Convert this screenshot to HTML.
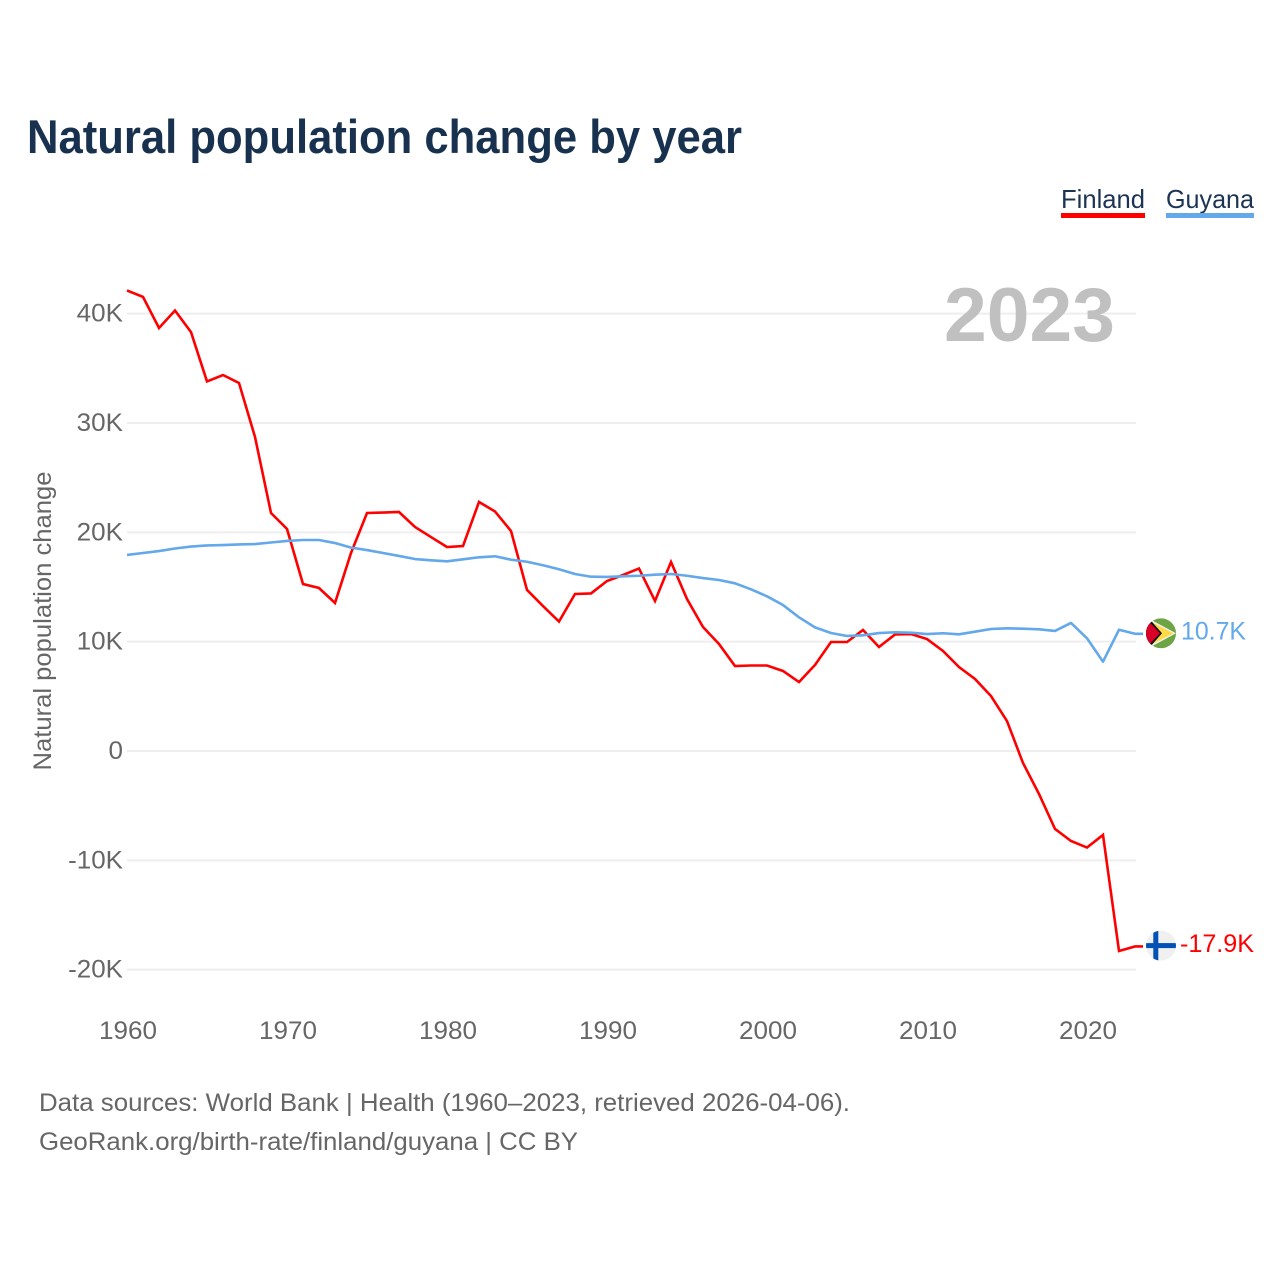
<!DOCTYPE html>
<html lang="en">
<head>
<meta charset="utf-8">
<title>Natural population change by year</title>
<style>
html,body{margin:0;padding:0;background:#fff;width:1280px;height:1280px;overflow:hidden}
svg{display:block}
text{font-family:"Liberation Sans",Arial,sans-serif}
</style>
</head>
<body>
<svg id="chart" xmlns="http://www.w3.org/2000/svg" width="1280" height="1280" viewBox="0 0 1280 1280">
  <defs>
    <clipPath id="flag-clip"><circle cx="0" cy="0" r="15"></circle></clipPath>
  </defs>
  <rect x="0" y="0" width="1280" height="1280" fill="#ffffff"></rect>
  <text x="27" y="153" font-size="47" font-weight="700" fill="#17314f" textLength="715" lengthAdjust="spacingAndGlyphs">Natural population change by year</text>

  <g>
    <g>
      <text x="1061" y="208" font-size="26" fill="#1b3454" textLength="84" lengthAdjust="spacingAndGlyphs">Finland</text>
      <rect x="1061" y="213" width="84" height="5" fill="#ff0000"></rect>
    </g>
    <g>
      <text x="1166" y="208" font-size="26" fill="#1b3454" textLength="88" lengthAdjust="spacingAndGlyphs">Guyana</text>
      <rect x="1166" y="213" width="88" height="5" fill="#62a8ea"></rect>
    </g>
  </g>

  <g id="grid"></g>
  <text x="944" y="341" font-size="76" font-weight="700" fill="#c0c0c0" textLength="171" lengthAdjust="spacingAndGlyphs">2023</text>
  <g id="y-axis"></g>
  <g id="x-axis"></g>
  <text x="0" y="0" transform="translate(51 621) rotate(-90)" text-anchor="middle" font-size="25" fill="#666666" textLength="299" lengthAdjust="spacingAndGlyphs">Natural population change</text>

  <path id="line-finland" fill="none" stroke="#ff0000" stroke-width="2.6" stroke-linejoin="miter"></path>
  <path id="line-guyana" fill="none" stroke="#62a8ea" stroke-width="2.6" stroke-linejoin="round"></path>

  <g id="flag-guyana">
    <g clip-path="url(#flag-clip)">
      <rect x="-15" y="-15" width="30" height="30" fill="#6da544"></rect>
      <polygon points="-10,-13.5 15,0 -10,13.5" fill="#f0f0f0"></polygon>
      <polygon points="-9,-11 12.5,0 -9,11" fill="#ffda44"></polygon>
      <polygon points="-15,-13.5 -9.5,-12 1,0 -9.5,12 -15,13.5" fill="#111111"></polygon>
      <polygon points="-15,-11 -10.5,-10 -1,0 -10.5,10 -15,11" fill="#d80027"></polygon>
    </g>
  </g>
  <g id="flag-finland">
    <g clip-path="url(#flag-clip)">
      <rect x="-15" y="-15" width="30" height="30" fill="#f0f0f0"></rect>
      <rect x="-7.7" y="-15" width="5" height="30" fill="#0052b4"></rect>
      <rect x="-15" y="-2.5" width="30" height="5" fill="#0052b4"></rect>
    </g>
  </g>
  <text id="value-guyana" x="1181" font-size="25" fill="#62a8ea"></text>
  <text id="value-finland" x="1180" font-size="25" fill="#ff0000"></text>

  <text x="39" y="1111" font-size="25" fill="#666666" textLength="811" lengthAdjust="spacingAndGlyphs">Data sources: World Bank | Health (1960–2023, retrieved 2026-04-06).</text>
  <text x="39" y="1150" font-size="25" fill="#666666" textLength="539" lengthAdjust="spacingAndGlyphs">GeoRank.org/birth-rate/finland/guyana | CC BY</text>
</svg>
<script>
var startYear = 1960;
var finland = [42.12,41.53,38.69,40.29,38.32,33.80,34.39,33.66,28.72,21.77,
  20.31,15.27,14.91,13.54,18.11,21.77,21.81,21.86,20.49,19.57,
  18.66,18.75,22.78,21.91,20.12,14.73,13.26,11.84,14.36,14.41,
  15.55,16.10,16.69,13.72,17.29,13.90,11.34,9.79,7.77,7.82,
  7.82,7.32,6.31,7.87,9.97,9.97,11.07,9.51,10.66,10.70,
  10.24,9.15,7.68,6.59,5.03,2.74,-1.10,-3.93,-7.13,-8.23,
  -8.83,-7.68,-18.29,-17.88];
var guyana = [17.93,18.11,18.29,18.52,18.70,18.80,18.84,18.89,18.93,19.07,
  19.21,19.30,19.30,19.02,18.60,18.38,18.11,17.84,17.56,17.44,
  17.35,17.53,17.72,17.81,17.50,17.31,16.99,16.62,16.19,15.94,
  15.92,15.98,16.03,16.13,16.19,16.03,15.82,15.64,15.34,14.79,
  14.15,13.35,12.23,11.31,10.79,10.52,10.58,10.79,10.86,10.82,
  10.70,10.77,10.67,10.91,11.16,11.22,11.19,11.13,10.98,11.71,
  10.31,8.17,11.09,10.72];
var yTickValues = [40,30,20,10,0,-10,-20];
var yTickLabels = ['40K','30K','20K','10K','0','-10K','-20K'];
var xTickYears = [1960,1970,1980,1990,2000,2010,2020];

var svgNS = 'http://www.w3.org/2000/svg';
function xScale(year){ return 127 + (year - 1960) * 16; }
function yScale(v){ return 751 - v * 10.933; }
function linePath(values){
  var d = '';
  for (var i = 0; i < values.length; i++) {
    d += (i ? 'L' : 'M') + xScale(startYear + i).toFixed(2) + ' ' + yScale(values[i]).toFixed(2);
  }
  // short flat connector running from the last point toward the flag
  d += 'L' + (xScale(startYear + values.length - 1) + 8).toFixed(2) + ' ' + yScale(values[values.length - 1]).toFixed(2);
  return d;
}
function fmt(v){ return v.toFixed(1) + 'K'; }

var grid = document.getElementById('grid');
var yAxis = document.getElementById('y-axis');
var xAxis = document.getElementById('x-axis');

yTickValues.forEach(function(v, i){
  var line = document.createElementNS(svgNS, 'line');
  
  
  line.setAttribute('x1', 127);
  line.setAttribute('x2', 1136);
  line.setAttribute('y1', yScale(v));
  line.setAttribute('y2', yScale(v));
  line.setAttribute('stroke', '#eeeeee');
  line.setAttribute('stroke-width', 2);
  grid.appendChild(line);

  var t = document.createElementNS(svgNS, 'text');
  
  
  t.setAttribute('x', 123);
  t.setAttribute('y', yScale(v) + 8);
  t.setAttribute('text-anchor', 'end');
  t.setAttribute('font-size', 25);
  t.setAttribute('fill', '#666666');
  t.textContent = yTickLabels[i];
  yAxis.appendChild(t);
  t.setAttribute('textLength', (t.getComputedTextLength() * 1.04).toFixed(1));
  t.setAttribute('lengthAdjust', 'spacingAndGlyphs');
});

xTickYears.forEach(function(year){
  var t = document.createElementNS(svgNS, 'text');
  
  
  t.setAttribute('x', xScale(year) + 1);
  t.setAttribute('y', 1039);
  t.setAttribute('text-anchor', 'middle');
  t.setAttribute('font-size', 25);
  t.setAttribute('fill', '#666666');
  t.textContent = String(year);
  xAxis.appendChild(t);
  t.setAttribute('textLength', (t.getComputedTextLength() * 1.04).toFixed(1));
  t.setAttribute('lengthAdjust', 'spacingAndGlyphs');
});

document.getElementById('line-finland').setAttribute('d', linePath(finland));
document.getElementById('line-guyana').setAttribute('d', linePath(guyana));

var lastF = finland[finland.length - 1];
var lastG = guyana[guyana.length - 1];
document.getElementById('flag-guyana').setAttribute('transform', 'translate(1161 ' + (yScale(lastG) - 0.5).toFixed(1) + ')');
document.getElementById('flag-finland').setAttribute('transform', 'translate(1161 ' + (yScale(lastF) - 0.9).toFixed(1) + ')');

var vg = document.getElementById('value-guyana');
vg.setAttribute('y', (yScale(lastG) + 5.5).toFixed(1));
vg.textContent = fmt(lastG);
vg.setAttribute('textLength', '65');
vg.setAttribute('lengthAdjust', 'spacingAndGlyphs');

var vf = document.getElementById('value-finland');
vf.setAttribute('y', (yScale(lastF) + 5.5).toFixed(1));
vf.textContent = fmt(lastF);
vf.setAttribute('textLength', '74');
vf.setAttribute('lengthAdjust', 'spacingAndGlyphs');
</script>
</body>
</html>
